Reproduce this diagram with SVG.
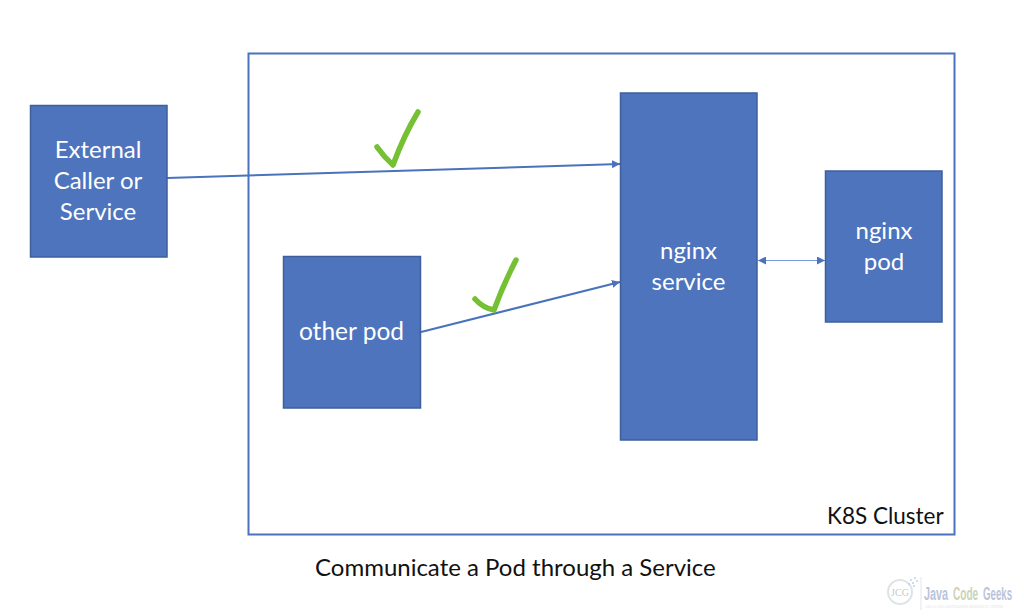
<svg xmlns="http://www.w3.org/2000/svg" width="1024" height="616" viewBox="0 0 1024 616">
  <style>
    .box { fill: #4d74bd; stroke: #3f5f9c; stroke-width: 1.5; }
    .label { font-family: Lato, "Open Sans", sans-serif; font-size: 24px; fill: #ffffff; text-anchor: middle; }
    .dark { font-family: Lato, "Open Sans", sans-serif; fill: #111111; }
    .wire { fill: none; stroke: #4a72bd; }
    .tick { fill: none; stroke: #76c034; stroke-width: 5.5; stroke-linecap: round; stroke-linejoin: round; }
    .brand { font-family: "Liberation Sans", sans-serif; font-size: 19px; font-weight: bold; }
  </style>
  <defs>
    <marker id="arrow" markerUnits="userSpaceOnUse" markerWidth="9" markerHeight="8" refX="8" refY="4" orient="auto">
      <path d="M0 0 L8 4 L0 8 Z" fill="#4a72bd"/>
    </marker>
    <marker id="arrow-start" markerUnits="userSpaceOnUse" markerWidth="9" markerHeight="8" refX="0" refY="4" orient="auto">
      <path d="M8 0 L0 4 L8 8 Z" fill="#4a72bd"/>
    </marker>
  </defs>
  <rect width="1024" height="616" fill="#ffffff"/>

  <g id="cluster">
    <rect x="248.500" y="53.500" width="706" height="481" fill="none" stroke="#4a72bd" stroke-width="2"/>
    <text class="dark" x="827" y="524" font-size="22.500">K8S Cluster</text>
  </g>

  <g id="connectors">
    <path class="wire" stroke-width="2" marker-end="url(#arrow)" d="M167 178 L620 164"/>
    <path class="wire" stroke-width="2" marker-end="url(#arrow)" d="M421 332 L620 282"/>
    <path class="wire" style="stroke:#7a9bd8" stroke-width="1" marker-start="url(#arrow-start)" marker-end="url(#arrow)" d="M758 260.500 L825 260.500"/>
  </g>

  <g id="external-caller">
    <rect class="box" x="30.500" y="105.500" width="136.500" height="151.500"/>
    <text class="label" x="98" y="158">External</text>
    <text class="label" x="98" y="189">Caller or</text>
    <text class="label" x="98" y="220">Service</text>
  </g>

  <g id="other-pod">
    <rect class="box" x="283.500" y="256.500" width="137" height="151.500"/>
    <text class="label" x="351.500" y="340" style="font-size:24.500px">other pod</text>
  </g>

  <g id="nginx-service">
    <rect class="box" x="620.500" y="93" width="136.500" height="347"/>
    <text class="label" x="688.500" y="259">nginx</text>
    <text class="label" x="688.500" y="290">service</text>
  </g>

  <g id="nginx-pod">
    <rect class="box" x="825.500" y="171" width="116.500" height="151"/>
    <text class="label" x="884" y="239">nginx</text>
    <text class="label" x="884" y="270">pod</text>
  </g>

  <g id="ticks">
    <path class="tick" d="M377 147 Q384 157 393 165 Q404 135 418 112"/>
    <path class="tick" d="M475 299 Q483 308 494 310 Q503 285 516 260"/>
  </g>

  <text class="dark" x="315" y="576" font-size="24">Communicate a Pod through a Service</text>

  <g id="watermark">
    <circle cx="900" cy="592" r="12" fill="none" stroke="#dfe3e6" stroke-width="2"/>
    <text x="900" y="596" font-family="Liberation Serif, serif" font-size="10" fill="#c4cacd" text-anchor="middle">JCG</text>
    <g fill="#c3cfe6">
      <circle cx="911" cy="580" r="1"/><circle cx="915" cy="578" r="1"/>
      <circle cx="913" cy="583" r="1"/><circle cx="917" cy="581" r="1"/>
      <circle cx="909" cy="584" r="1"/><circle cx="914" cy="586" r="1"/>
    </g>
    <path d="M921 577 V610" stroke="#e2e5e8" stroke-width="1"/>
    <text class="brand" transform="translate(924 599.500) scale(.57 1)" fill="#b9c4dc">Java</text>
    <text class="brand" transform="translate(953 599.500) scale(.53 1)" fill="#c9d3b8">Code</text>
    <text class="brand" transform="translate(983 599.500) scale(.51 1)" fill="#b9c4dc">Geeks</text>
    <text transform="translate(925 608) scale(.8 1)" font-family="Liberation Serif, serif" font-size="4.500" fill="#dfe3da">JAVA 2 JAVA DEVELOPERS RESOURCE CENTER</text>
  </g>
</svg>
